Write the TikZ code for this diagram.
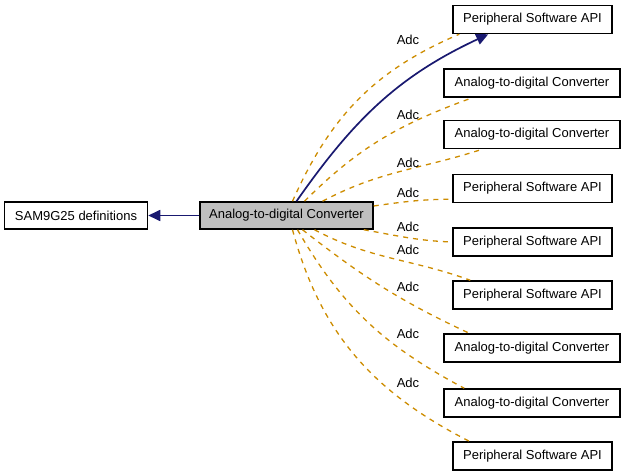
\documentclass[tikz,border=0pt]{standalone}
\usepackage{fontspec}
\setmainfont{Liberation Sans}
\usetikzlibrary{arrows.meta, calc, positioning}
\definecolor{EdgeNavy}{RGB}{25, 25, 112}
\definecolor{EdgeOrange}{RGB}{205, 140, 0}
\definecolor{BoxGray}{RGB}{191, 191, 191}

\begin{document}
\begin{tikzpicture}[x=1pt, y=1pt,
  box/.style={%
    rectangle, draw=black, line width=1.5pt,
    fill=white, font=\fontsize{13}{15}\selectfont,
    minimum height=28pt, inner sep=0pt},
  apibox/.style={box, minimum width=159pt},
  adcbox/.style={box, minimum width=176pt},
  cur/.style={box, fill=BoxGray, minimum width=173pt, minimum height=27pt},
  arr/.style={-{Triangle[length=12pt, width=11pt]}, color=EdgeNavy, line width=1.7pt},
  dep/.style={color=EdgeOrange, line width=1.3pt, dash pattern=on 5pt off 5pt},
  lbl/.style={font=\fontsize{13}{15}\selectfont, inner sep=0pt}
]
\useasboundingbox (0,0) rectangle (624,-476);

\node[cur] (adc) at (286.5,-215.5) {Analog-to-digital Converter};
\node[box, minimum width=143pt, minimum height=27pt, left=51pt of adc] (sam) {SAM9G25 definitions};

\node[apibox] (api1)  at (532.5,-19.5)  {Peripheral Software API};
\node[adcbox] (conv2) at (532,-83)      {Analog-to-digital Converter};
\node[adcbox] (conv3) at (532,-134.5)   {Analog-to-digital Converter};
\node[apibox] (api4)  at (532.5,-188.5) {Peripheral Software API};
\node[apibox] (api5)  at (532.5,-242)   {Peripheral Software API};
\node[apibox] (api6)  at (532.5,-295)   {Peripheral Software API};
\node[adcbox] (conv7) at (532,-348)     {Analog-to-digital Converter};
\node[adcbox] (conv8) at (532,-403)     {Analog-to-digital Converter};
\node[apibox] (api9)  at (532.5,-456)   {Peripheral Software API};

% dashed Adc links
\draw[dep] ($(adc.north)+(6,0)$)       to[out=66,in=203]  ($(api1.south west)+(7,0)$);
\draw[dep] ($(adc.north)+(18,0)$)      to[out=45,in=200]  ($(conv2.south west)+(29,0)$);
\draw[dep] ($(adc.north)+(36,0)$)      to[out=28,in=198]  ($(conv3.south west)+(39,0)$);
\draw[dep] ($(adc.east)+(0,9.5)$)      to[out=8,in=180]   ($(api4.south west)+(0,4)$);
\draw[dep] ($(adc.south east)+(-10,0)$) to[out=-10,in=178] (api5.west);
\draw[dep] ($(adc.south)+(28,0)$)      to[out=-28,in=160] ($(api6.north west)+(18,0)$);
\draw[dep] ($(adc.south)+(16,0)$)      to[out=-38,in=155] ($(conv7.north west)+(26,0)$);
\draw[dep] ($(adc.south)+(11,0)$)      to[out=-60,in=152] ($(conv8.north west)+(21,0)$);
\draw[dep] ($(adc.south)+(6,0)$)       to[out=-75,in=153] ($(api9.north west)+(17,0)$);

\node[lbl] (l1) at (408,-40)  {Adc};
\node[lbl] (l2) at (408,-115) {Adc};
\node[lbl] (l3) at (408,-163) {Adc};
\node[lbl] (l4) at (408,-193) {Adc};
\node[lbl] (l5) at (408,-227) {Adc};
\node[lbl] (l6) at (408,-250) {Adc};
\node[lbl] (l7) at (408,-287) {Adc};
\node[lbl] (l8) at (408,-334) {Adc};
\node[lbl] (l9) at (408,-383) {Adc};

% solid links
\draw[arr] (adc) -- (sam);
\draw[arr] ($(adc.north)+(10,0)$) to[out=55,in=205] ($(api1.south west)+(36,0)$);
\end{tikzpicture}
\end{document}
